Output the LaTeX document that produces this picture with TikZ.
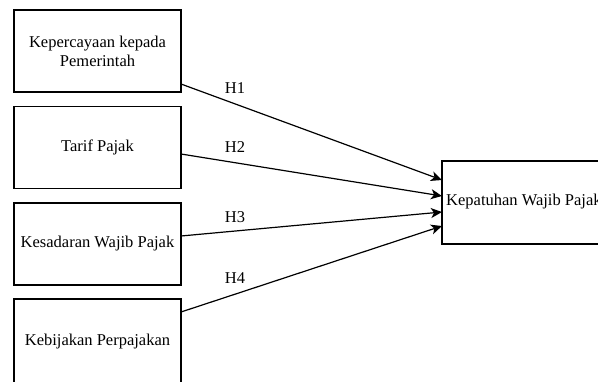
\documentclass[tikz,border=0pt]{standalone}
\usepackage{fontspec}
\setmainfont{Liberation Serif}
\usetikzlibrary{arrows.meta}
\begin{document}
\begin{tikzpicture}[x=1pt,y=-1pt,
  box/.style={draw=black,line width=1.2pt,minimum width=167pt,minimum height=82pt,inner sep=0pt,align=center,font=\fontsize{16.5}{19}\selectfont},
  lbl/.style={font=\fontsize{16.5}{19}\selectfont,inner sep=0pt},
  conn/.style={draw=black,line width=1.2pt,-{Stealth[length=11pt,width=10pt,inset=3pt]}}]
\clip (0,0) rectangle (598,381);
\useasboundingbox (0,0) rectangle (598,381);
\node[box] (b1) at (97.5,51) {Kepercayaan kepada\\Pemerintah};
\node[box] (b2) at (97.5,147.5) {Tarif Pajak};
\node[box] (b3) at (97.5,244) {Kesadaran Wajib Pajak};
\node[box,minimum height=86pt] (b4) at (97.5,342) {Kebijakan Perpajakan};
\node[draw=black,line width=1.2pt,minimum width=180pt,minimum height=83pt,inner sep=0pt] (t) at (532,202.5) {};
\node[lbl,anchor=west] (tl) at (446,202) {Kepatuhan Wajib Pajak};
\coordinate (s1) at (181,84);
\coordinate (s2) at (181,154);
\coordinate (s3) at (181,236);
\coordinate (s4) at (181,312);
\coordinate (e1) at (442,180);
\coordinate (e2) at (442,196);
\coordinate (e3) at (442,212);
\coordinate (e4) at (442,226);
\draw[conn] (s1) -- (e1);
\draw[conn] (s2) -- (e2);
\draw[conn] (s3) -- (e3);
\draw[conn] (s4) -- (e4);
\node[lbl] (h1) at (235,88) {H1};
\node[lbl] (h2) at (235,147) {H2};
\node[lbl] (h3) at (235,217) {H3};
\node[lbl] (h4) at (235,278) {H4};
\end{tikzpicture}
\end{document}
